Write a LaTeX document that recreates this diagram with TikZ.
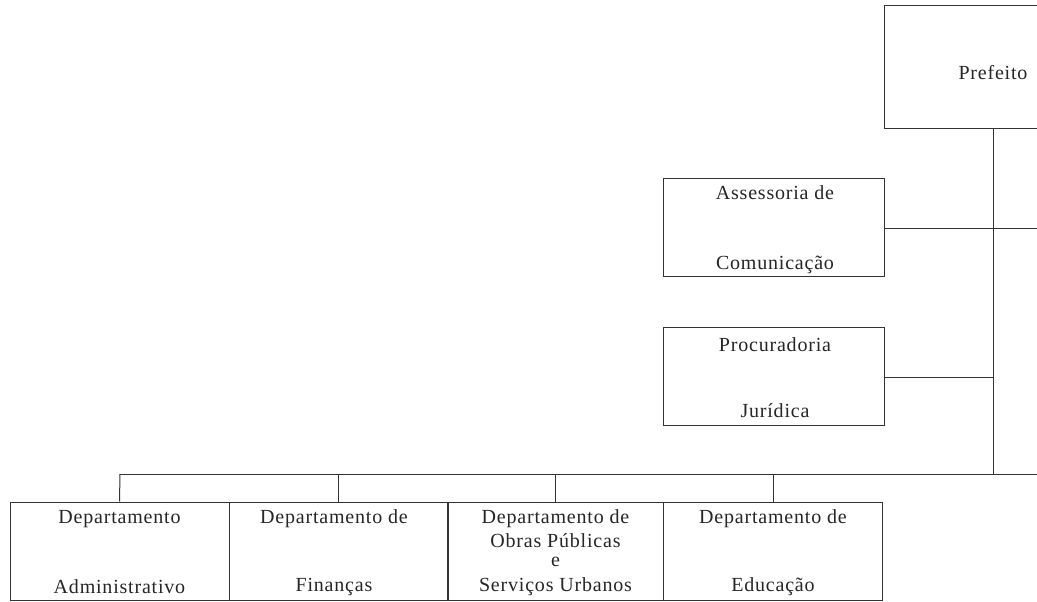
\documentclass[tikz,border=0pt]{standalone}
\usepackage{fontspec}
\setmainfont{Liberation Serif}[LetterSpace=4]
\begin{document}
\begin{tikzpicture}[x=1pt,y=-1pt,
  box/.style={draw=black!80, line width=1pt, rectangle, inner sep=0pt},
  conn/.style={draw=black!80, line width=1pt},
  lbl/.style={text=black!85, font=\fontsize{20}{23}\selectfont, inner sep=0pt, anchor=center}]
\clip (0,0) rectangle (1037,602);
\fill[white] (0,0) rectangle (1037,602);
% Prefeito
\node[box, minimum width=218pt, minimum height=122pt] (pref) at (993,67) {};
\node[lbl] (preft) at (993,73) {Prefeito};
% Assessoria
\node[box, minimum width=221pt, minimum height=98pt] (ass) at (773.5,227) {};
\node[lbl] (ass1) at (775,193) {Assessoria de};
\node[lbl] (ass2) at (775,265) {Comunicação};
% Procuradoria
\node[box, minimum width=221pt, minimum height=98pt] (proc) at (773.5,376) {};
\node[lbl] (proc1) at (775,345) {Procuradoria};
\node[lbl] (proc2) at (775,411) {Jurídica};
% bottom departments
\node[box, minimum width=219pt, minimum height=98pt] (d1) at (119.5,551) {};
\node[box, minimum width=219pt, minimum height=98pt] (d2) at (338.5,551) {};
\node[box, minimum width=216pt, minimum height=98pt] (d3) at (555.5,551) {};
\node[box, minimum width=219pt, minimum height=98pt] (d4) at (773,551) {};
\node[lbl] (d1a) at (119.5,519) {Departamento};
\node[lbl] (d1b) at (119.5,587) {Administrativo};
\node[lbl] (d2a) at (334,519) {Departamento de};
\node[lbl] (d2b) at (334,587) {Finanças};
\node[lbl] (d3a) at (555.5,519) {Departamento de};
\node[lbl] (d3b) at (555.5,541) {Obras Públicas};
\node[lbl] (d3c) at (555.5,562) {e};
\node[lbl] (d3d) at (555.5,587) {Serviços Urbanos};
\node[lbl] (d4a) at (773,519) {Departamento de};
\node[lbl] (d4b) at (773,587) {Educação};
% connectors
\coordinate (vtop) at (993,128);
\coordinate (vbot) at (993,474);
\coordinate (assr) at (1037,228);
\coordinate (procj) at (993,377);
\coordinate (busl) at (120,474);
\coordinate (busr) at (1037,474);
\draw[conn] (vtop) -- (vbot);
\draw[conn] (ass.east |- assr) -- (assr);
\draw[conn] (proc.east |- procj) -- (procj);
\draw[conn] (busl) -- (busr);
\draw[conn] (busl) -- (d1.north);
\draw[conn] (d2.north |- busl) -- (d2.north);
\draw[conn] (d3.north |- busl) -- (d3.north);
\draw[conn] (d4.north |- busl) -- (d4.north);
\end{tikzpicture}
\end{document}
